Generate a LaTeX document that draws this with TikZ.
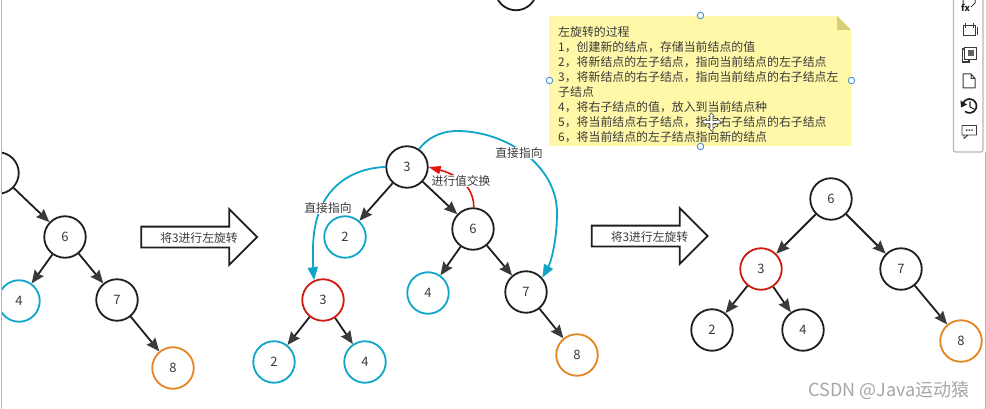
\documentclass[tikz,border=0pt]{standalone}
\usepackage{fontspec}
\setmainfont{Noto Sans CJK SC}
\usetikzlibrary{arrows.meta,shapes.arrows}
\definecolor{inkgray}{HTML}{3A3A3A}
\definecolor{lineblack}{HTML}{1E1E1E}
\definecolor{nodeblue}{HTML}{0FA5C9}
\definecolor{nodered}{HTML}{CC1A0E}
\definecolor{arrowred}{HTML}{E2140A}
\definecolor{nodeorange}{HTML}{E5851F}
\definecolor{noteyellow}{HTML}{FFF8A8}
\definecolor{notefold}{HTML}{D6CE78}
\definecolor{handleblue}{HTML}{4A8FCF}
\definecolor{panelgray}{HTML}{B8B8B8}
\tikzset{
	treenode/.style={circle,draw=lineblack,line width=1.8,minimum size=41.5,inner sep=0,text=inkgray,font=\fontsize{13}{15}\selectfont},
	bluenode/.style={treenode,draw=nodeblue},
	rednode/.style={treenode,draw=nodered},
	orangenode/.style={treenode,draw=nodeorange},
	edgeline/.style={draw=lineblack,line width=1.8,-{Stealth[length=13,width=11,inset=1.5,color=inkgray]}},
	blueline/.style={draw=nodeblue,line width=1.8,-{Stealth[length=13,width=10,inset=0]}},
	redline/.style={draw=arrowred,line width=1.6,-{Stealth[length=12,width=8,inset=0]}},
	curvelabel/.style={fill=white,inner sep=1,text=inkgray,font=\fontsize{11.8}{14}\selectfont},
	bigarrow/.style={single arrow,draw=lineblack,line width=1.8,fill=white,minimum height=116,minimum width=54,single arrow head extend=17.5,single arrow head indent=0,text height=11,text depth=0,inner xsep=0,inner ysep=4,text=inkgray,font=\fontsize{11.8}{14}\selectfont},
	handlenode/.style={circle,draw=handleblue,line width=0.9,fill=white,minimum size=6.5,inner sep=0},
}
\begin{document}
\begin{tikzpicture}[x=1pt,y=-1pt]
	\useasboundingbox (0,0) rectangle (986,409);
	\clip (0,0) rectangle (986,409);
	\fill [white] (0,0) rectangle (986,409);
	% left tree
	\begin{scope}
		\clip (2,0) rectangle (986,409);
		\node [treenode] (la) at (-2,173) {};
		\node [bluenode] (lb) at (19,301) {4};
	\end{scope}
	\node [treenode] (lc) at (65,237) {6};
	\node [treenode] (ld) at (117,300) {7};
	\node [orangenode] (le) at (173,368) {8};
	\draw [edgeline] (la) -- (lc);
	\draw [edgeline] (lc) -- (lb);
	\draw [edgeline] (lc) -- (ld);
	\draw [edgeline] (ld) -- (le);
	\node [bigarrow] (arrowa) at (194,237) {\hspace*{10pt}将3进行左旋转};
	% middle tree
	\node [treenode] (ma) at (407,167) {3};
	\node [bluenode] (mb) at (345,237) {2};
	\node [treenode] (mc) at (473,229) {6};
	\node [bluenode] (md) at (428,293) {4};
	\node [treenode] (me) at (526,292) {7};
	\node [orangenode] (mf) at (577,355) {8};
	\node [rednode] (mg) at (323,300) {3};
	\node [bluenode] (mh) at (274,362) {2};
	\node [bluenode] (mi) at (365,362) {4};
	\draw [edgeline] (ma) -- (mb);
	\draw [edgeline] (ma) -- (mc);
	\draw [edgeline] (mc) -- (md);
	\draw [edgeline] (mc) -- (me);
	\draw [edgeline] (me) -- (mf);
	\draw [edgeline] (mg) -- (mh);
	\draw [edgeline] (mg) -- (mi);
	\draw [blueline] (ma.56) .. controls (430,135) and (445,131) .. (457,131) .. controls (506,131) and (557,165) .. (557,213) .. controls (557,240) and (551,262) .. (me.41);
	\draw [blueline] (ma.180) .. controls (355,168) and (313,185) .. (313,250) .. controls (313,262) and (313,270) .. (mg.114);
	\draw [redline] (mc.88) .. controls (474,190) and (462,176) .. (ma.0);
	\node [curvelabel] (labela) at (519,153) {直接指向};
	\node [curvelabel] (labelb) at (328,208) {直接指向};
	\node [curvelabel] (labelc) at (461,181) {进行值交换};
	\node [bigarrow] (arrowb) at (644.5,236) {\hspace*{10pt}将3进行左旋转};
	% right tree
	\node [treenode] (ra) at (831,199) {6};
	\node [rednode] (rb) at (761,269) {3};
	\node [treenode] (rc) at (901,269) {7};
	\node [treenode] (rd) at (712,330) {2};
	\node [treenode] (re) at (803,330) {4};
	\node [orangenode] (rf) at (961,341) {8};
	\draw [edgeline] (ra) -- (rb);
	\draw [edgeline] (ra) -- (rc);
	\draw [edgeline] (rb) -- (rd);
	\draw [edgeline] (rb) -- (re);
	\draw [edgeline] (rc) -- (rf);
	% cut off node above the note
	\node [treenode] (topnode) at (516,-10.5) {};
	% note
	\fill [noteyellow] (549,16) -- (837,16) -- (851,30) -- (851,146) -- (549,146) -- cycle;
	\fill [notefold] (837,16) -- (851,30) -- (837,30) -- cycle;
	\node [anchor=north west,align=left,inner sep=0,text=inkgray,font=\fontsize{11.9}{15}\selectfont] (notetext) at (558,26) {左旋转的过程\\1，创建新的结点，存储当前结点的值\\2，将新结点的左子结点，指向当前结点的左子结点\\3，将新结点的右子结点，指向当前结点的右子结点左\\子结点\\4，将右子结点的值，放入到当前结点种\\5，将当前结点右子结点，指向右子结点的右子结点\\6，将当前结点的左子结点指向新的结点};
	\node [handlenode] (hna) at (700.5,15.5) {};
	\node [handlenode] (hnb) at (549.5,80.5) {};
	\node [handlenode] (hnc) at (851.5,80.5) {};
	\node [handlenode] (hnd) at (700.5,146.5) {};
	% move cursor
	\filldraw [draw=inkgray,fill=white,line width=0.5] (711.5,113) -- (714.5,116.5) -- (712.8,116.5) -- (712.8,120.7) -- (717,120.7) -- (717,119) -- (721,122) -- (717,125) -- (717,123.3) -- (712.8,123.3) -- (712.8,127.5) -- (714.5,127.5) -- (711.5,131) -- (708.5,127.5) -- (710.2,127.5) -- (710.2,123.3) -- (706,123.3) -- (706,125) -- (702,122) -- (706,119) -- (706,120.7) -- (710.2,120.7) -- (710.2,116.5) -- (708.5,116.5) -- cycle;
	% toolbar
	\draw [panelgray,line width=1.2,rounded corners=2] (953.5,-2) -- (953.5,152) -- (983,152) -- (983,-2);
	\draw [panelgray,line width=1] (985.3,152) -- (985.3,409);
	\draw [panelgray,line width=1.3] (1.5,0) -- (1.5,409);
	\draw [inkgray,line width=1] (963,-2) -- (963,4) (975,-2) -- (975,3) -- (971,7);
	\node [inner sep=0,font=\itshape\bfseries\fontsize{9}{9}\selectfont,text=lineblack] (iconfx) at (965.5,7.5) {fx};
	\draw [inkgray,line width=1] (963,26) rectangle (975,35.5) (965,23) -- (965,28) (973,23) -- (973,28);
	\draw [inkgray,line width=1] (977,27) -- (977,35);
	\draw [inkgray,line width=1.2] (962.5,49) rectangle (969,62);
	\filldraw [draw=inkgray,fill=white,line width=1.2] (964.5,47.5) rectangle (976.5,59.5);
	\fill [inkgray!80] (967.5,50.5) rectangle (974,56.5);
	\draw [inkgray,line width=1,line join=round] (963,74) -- (971,74) -- (975,78.5) -- (975,88) -- (963,88) -- cycle (971,74) -- (971,78.5) -- (975,78.5);
	\draw [lineblack,line width=1.7] (962.9,103.6) arc (200:490:7);
	\draw [lineblack,line width=1.1] (970,101.5) -- (970,107) -- (974,109);
	\fill [lineblack] (960.5,100.5) -- (967,104.5) -- (961,107.5) -- cycle;
	\draw [inkgray,line width=0.9,line join=round] (962,125.5) rectangle (976.5,135) (964,135) -- (964,138.5) -- (968,135);
	\fill [inkgray] (966,129.5) rectangle +(1.3,1.3) (968.7,129.5) rectangle +(1.3,1.3) (971.4,129.5) rectangle +(1.3,1.3);
	% watermark
	\node [inner sep=0,text=gray!70,font=\fontsize{18}{20}\selectfont] (watermark) at (889,390.5) {CSDN @Java运动猿};
\end{tikzpicture}
\end{document}
